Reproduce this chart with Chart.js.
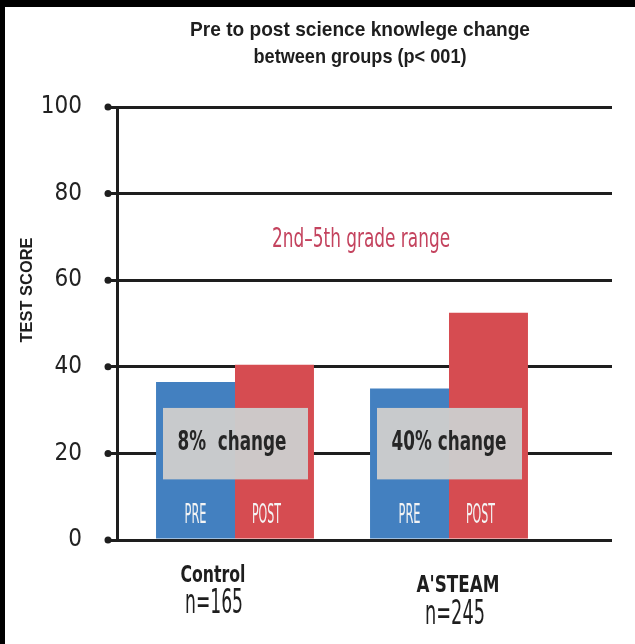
<!DOCTYPE html>
<html>
<head>
<meta charset="utf-8">
<script src="https://cdn.jsdelivr.net/npm/chart.js@4.4.1/dist/chart.umd.min.js"></script>
<style>
  html, body { margin: 0; padding: 0; background: #000; }
  #wrap { position: absolute; left: 5px; top: 7px; width: 630px; height: 637px; background: #fff; }
</style>
</head>
<body>
<div id="wrap"><canvas id="scoreChart"></canvas></div>
<script>
// values
const groups = ['Control', "A'STEAM"];
const groupSizes = ['n=165', 'n=245'];
const preScores = [36.5, 35];
const postScores = [40.5, 52.5];
const changeLabels = ['8%  change', '40% change'];
const barLabels = ['PRE', 'POST'];
const yTicks = [0, 20, 40, 60, 80, 100];
const titleLines = ['Pre to post science knowlege change', 'between groups (p< 001)'];
const yTitle = 'TEST SCORE';
const rangeNote = '2nd\u20135th grade range';

const blue = '#4380c0';
const red = '#d64c51';
const ink = '#1e1e1e';
const narrow = '"Liberation Sans Narrow", "DejaVu Sans Condensed", sans-serif';

// text squeezed to a given width, the original uses a condensed face
function fitText(ctx, s, x, y, font, color, width, rotate) {
    ctx.save();
    ctx.font = font;
    ctx.fillStyle = color;
    ctx.textAlign = 'center';
    ctx.textBaseline = 'middle';
    ctx.translate(x, y);
    if (rotate) ctx.rotate(rotate);
    const w = ctx.measureText(s).width;
    if (width) ctx.scale(width / w, 1);
    ctx.fillText(s, 0, 0);
    ctx.restore();
}

const overlay = {
    id: 'overlay',
    afterDatasetsDraw(chart) {
        const ctx = chart.ctx;
        const x = chart.scales.x;
        const y = chart.scales.y;

        // grey "change" boxes over each pair of bars
        groups.forEach((g, i) => {
            const cx = x.getPixelForValue(i + 1);
            const top = y.getPixelForValue(30.5);
            const bottom = y.getPixelForValue(14);
            ctx.fillStyle = 'rgba(204, 204, 204, 0.97)';
            ctx.fillRect(cx - 72, top, 145, bottom - top);
            fitText(ctx, changeLabels[i], cx + (i === 0 ? -3 : 0), y.getPixelForValue(22.3),
                'bold 27px ' + narrow, '#262626', i === 0 ? 109 : 115);
        });

        // PRE / POST inside the bars
        chart.data.datasets.forEach((ds, d) => {
            chart.getDatasetMeta(d).data.forEach(bar => {
                fitText(ctx, barLabels[d], bar.x - (d === 1 ? 8 : 0), y.getPixelForValue(5.5),
                    '27px ' + narrow, '#f4f4f4', d === 0 ? 22 : 29);
            });
        });

        fitText(ctx, rangeNote, x.getPixelForValue(1.589), y.getPixelForValue(69.3),
            '27px ' + narrow, '#c4435e', 178);
    },
    afterDraw(chart) {
        const ctx = chart.ctx;
        const x = chart.scales.x;
        const y = chart.scales.y;

        // dots at the end of each tick
        ctx.fillStyle = ink;
        yTicks.forEach(v => {
            ctx.beginPath();
            ctx.arc(chart.chartArea.left - 9, y.getPixelForValue(v), 3.5, 0, Math.PI * 2);
            ctx.fill();
        });

        fitText(ctx, titleLines[0], 355, 23, 'bold 21px "Liberation Sans", sans-serif', ink, 340);
        fitText(ctx, titleLines[1], 355, 50, 'bold 21px "Liberation Sans", sans-serif', ink, 213);
        fitText(ctx, yTitle, 22, 283, 'bold 17px "Liberation Sans", sans-serif', ink, 105, -Math.PI / 2);

        const nameShift = [[-22, 569, 65], [9, 579, 83]];
        const sizeShift = [[-21, 597, 58], [6, 608, 60]];
        groups.forEach((g, i) => {
            const cx = x.getPixelForValue(i + 1);
            fitText(ctx, g, cx + nameShift[i][0], nameShift[i][1], 'bold 23px ' + narrow, ink, nameShift[i][2]);
            fitText(ctx, groupSizes[i], cx + sizeShift[i][0], sizeShift[i][1], '33px ' + narrow, ink, sizeShift[i][2]);
        });
    }
};

new Chart(document.getElementById('scoreChart'), {
    type: 'bar',
    data: {
        datasets: [
            {
                label: 'PRE',
                backgroundColor: blue,
                data: preScores.map((v, i) => ({ x: i + 1, y: v }))
            },
            {
                label: 'POST',
                backgroundColor: red,
                data: postScores.map((v, i) => ({ x: i + 1, y: v }))
            }
        ]
    },
    options: {
        responsive: true,
        maintainAspectRatio: false,
        animation: false,
        categoryPercentage: 0.738,
        barPercentage: 1,
        layout: { padding: { left: 0, right: 23, top: 100, bottom: 104 } },
        plugins: {
            legend: { display: false },
            tooltip: { enabled: false }
        },
        scales: {
            x: {
                type: 'linear',
                display: false,
                offset: false,
                min: 0.4486,
                max: 2.7617,
                afterBuildTicks: scale => {
                    scale.ticks = groups.map((g, i) => ({ value: i + 1 }));
                }
            },
            y: {
                min: 0,
                max: 100,
                afterBuildTicks: scale => {
                    scale.ticks = yTicks.map(v => ({ value: v }));
                },
                afterFit: scale => { scale.width = 112; },
                border: { color: ink, width: 3 },
                grid: { color: ink, lineWidth: 3, tickLength: 9, tickColor: ink, tickWidth: 3 },
                ticks: {
                    padding: 26,
                    color: '#222',
                    font: { family: narrow, size: 24 }
                }
            }
        }
    },
    plugins: [overlay]
});
</script>
</body>
</html>
